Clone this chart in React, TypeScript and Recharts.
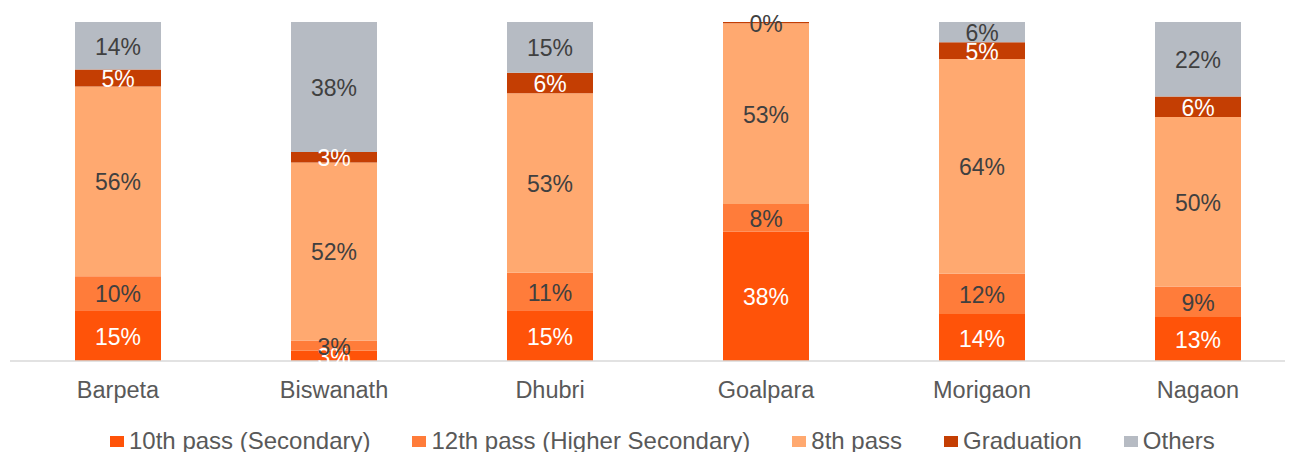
import { BarChart, Bar, XAxis, YAxis, Legend, LabelList } from 'recharts';

const categories = ['Barpeta', 'Biswanath', 'Dhubri', 'Goalpara', 'Morigaon', 'Nagaon'];
const secondary = [15, 3, 15, 38, 14, 13];
const higherSecondary = [10, 3, 11, 8, 12, 9];
const eighthPass = [56, 52, 53, 53, 64, 50];
const graduation = [5, 3, 6, 0.4, 5, 6];
const others = [14, 38, 15, 0, 6, 22];

const DARK = '#404040';

const SERIES = [
  { key: 'secondary', name: '10th pass (Secondary)', color: '#FF5309', labelColor: '#ffffff' },
  { key: 'higherSecondary', name: '12th pass (Higher Secondary)', color: '#FF7C3A', labelColor: DARK },
  { key: 'eighthPass', name: '8th pass', color: '#FFA970', labelColor: DARK },
  { key: 'graduation', name: 'Graduation', color: '#C43E03', labelColor: '#ffffff' },
  { key: 'others', name: 'Others', color: '#B6BBC3', labelColor: DARK },
];

const data = categories.map((name, i) => ({
  name,
  secondary: secondary[i],
  higherSecondary: higherSecondary[i],
  eighthPass: eighthPass[i],
  graduation: graduation[i],
  others: others[i],
}));

const FONT = '"Liberation Sans", Arial, sans-serif';

// tiny segments get their label in dark text (sits over white background)
const makeLabel = (color: string) => (props: any) => {
  const { x, y, width, height, value } = props;
  const v = Number(value);
  if (v === 0) return null;
  return (
    <text
      x={Number(x) + Number(width) / 2}
      y={Number(y) + Number(height) / 2 + 1}
      textAnchor="middle"
      dominantBaseline="central"
      fill={v < 1 ? DARK : color}
      style={{ fontSize: 23, fontFamily: FONT }}
    >
      {`${Math.round(v)}%`}
    </text>
  );
};

function LegendContent() {
  return (
    <div
      style={{
        display: 'flex',
        alignItems: 'center',
        height: 22,
        paddingLeft: 100,
        fontFamily: FONT,
        fontSize: 24,
        color: '#595959',
        whiteSpace: 'nowrap',
      }}
    >
      {SERIES.map((s) => (
        <div key={s.key} style={{ display: 'flex', alignItems: 'center', marginRight: 42 }}>
          <span style={{ width: 14, height: 11, background: s.color, marginRight: 5, display: 'inline-block' }} />
          <span>{s.name}</span>
        </div>
      ))}
    </div>
  );
}

export default function App() {
  return (
    <div style={{ width: 1285, height: 444, overflow: 'hidden' }}>
      <BarChart
        width={1298}
        height={444}
        data={data}
        stackOffset="expand"
        barSize={86}
        margin={{ top: 14, right: 0, bottom: 0, left: 2 }}
      >
        <XAxis
          dataKey="name"
          height={69}
          tickLine={false}
          tickMargin={14}
          axisLine={{ stroke: '#D9D9D9', strokeWidth: 1.5 }}
          tick={{ fill: '#595959', fontSize: 23.5, fontFamily: FONT }}
        />
        <YAxis hide domain={[0, 1]} />
        <Legend verticalAlign="bottom" content={<LegendContent />} />
        {SERIES.map((s) => (
          <Bar key={s.key} dataKey={s.key} name={s.name} stackId="a" fill={s.color} isAnimationActive={false}>
            <LabelList dataKey={s.key} content={makeLabel(s.labelColor)} />
          </Bar>
        ))}
      </BarChart>
    </div>
  );
}
